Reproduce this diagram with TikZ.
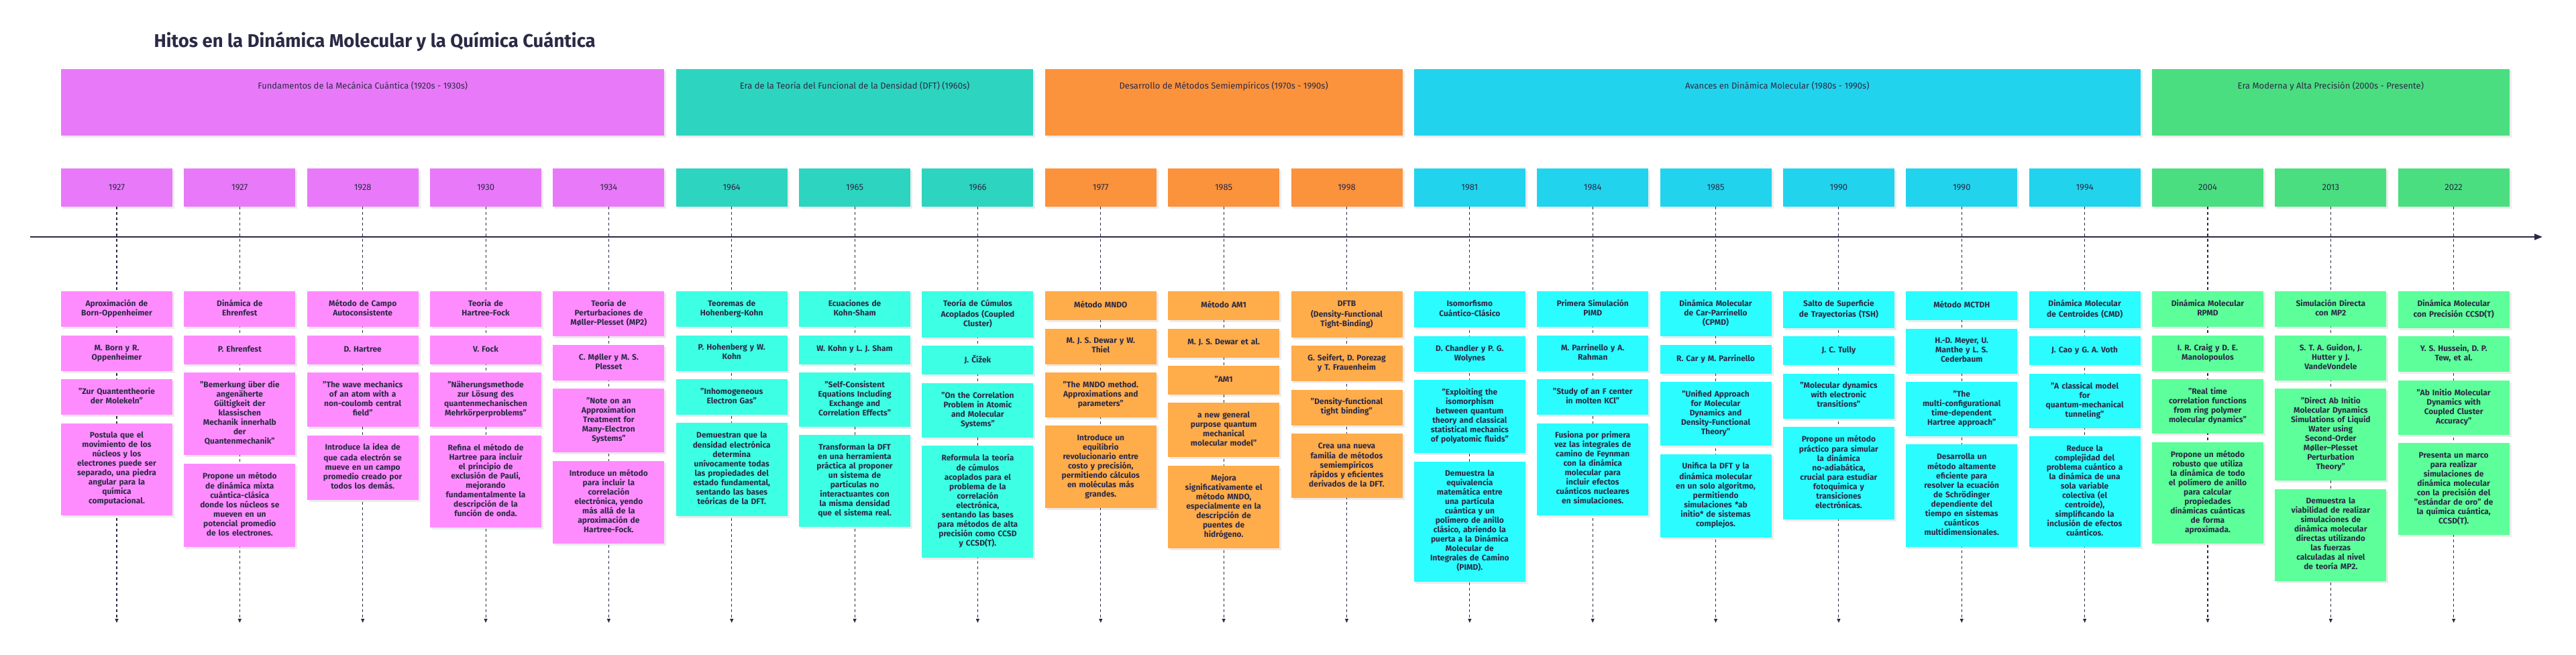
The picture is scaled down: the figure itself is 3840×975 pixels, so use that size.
\documentclass[tikz,border=0pt]{standalone}
\usepackage{fontspec}
\setmainfont{Fira Sans}
\usetikzlibrary{positioning,arrows.meta,shadows}

\definecolor{ink}{HTML}{2B2A45}
\definecolor{secA}{HTML}{E879F9}
\definecolor{cardA}{HTML}{FF8CFF}
\definecolor{secB}{HTML}{2DD4BF}
\definecolor{cardB}{HTML}{3CFFE3}
\definecolor{secC}{HTML}{FB923C}
\definecolor{cardC}{HTML}{FFAC4B}
\definecolor{secD}{HTML}{22D3EE}
\definecolor{cardD}{HTML}{2AFCFF}
\definecolor{secE}{HTML}{4ADE80}
\definecolor{cardE}{HTML}{5CFF9A}

\tikzset{
  boxshadow/.style={drop shadow={shadow xshift=3pt,shadow yshift=-3pt,fill=black,opacity=0.08}},
  secbox/.style={rectangle,boxshadow,minimum height=99pt,inner sep=0pt},
  sectitle/.style={text=ink,font=\fontsize{13}{15}\selectfont},
  yearbox/.style={rectangle,boxshadow,minimum width=166pt,minimum height=57pt,
    inner sep=0pt,text=ink,font=\fontsize{13}{15}\selectfont},
  card/.style={rectangle,boxshadow,minimum width=166pt,minimum height=43pt,
    text width=152pt,align=center,inner xsep=7pt,inner ysep=12.5pt,text=ink,
    font=\fontsize{12}{14}\selectfont\bfseries,
    execute at begin node=\strut,execute at end node=\strut},
  vline/.style={draw=ink,line width=1.1pt,dash pattern=on 4pt off 4pt,
    -{Triangle[length=6pt,width=5pt]}},
  axis/.style={draw=ink,line width=2.2pt,-{Triangle[length=12pt,width=9pt]}}
}

\begin{document}
\begin{tikzpicture}[x=1pt,y=-1pt]
  \useasboundingbox (0,0) rectangle (3840,975);
  \fill[white] (0,0) rectangle (3840,975);

  % title
  \node[text=ink,font=\fontsize{27.5}{32}\selectfont\bfseries,anchor=west] (title) at (226,62)
    {Hitos en la Dinámica Molecular y la Química Cuántica};

  % sections
  \node[secbox,fill=secA,minimum width=899.4pt] (sA) at (540.7,152.5) {};
  \node[secbox,fill=secB,minimum width=532.7pt] (sB) at (1274.1,152.5) {};
  \node[secbox,fill=secC,minimum width=532.7pt] (sC) at (1824.15,152.5) {};
  \node[secbox,fill=secD,minimum width=1082.75pt] (sD) at (2649.225,152.5) {};
  \node[secbox,fill=secE,minimum width=532.7pt] (sE) at (3474.3,152.5) {};
  \node[sectitle] (tA) at (540.7,128) {Fundamentos de la Mecánica Cuántica (1920s - 1930s)};
  \node[sectitle] (tB) at (1274.1,128) {Era de la Teoría del Funcional de la Densidad (DFT) (1960s)};
  \node[sectitle] (tC) at (1824.15,128) {Desarrollo de Métodos Semiempíricos (1970s - 1990s)};
  \node[sectitle] (tD) at (2649.225,128) {Avances en Dinámica Molecular (1980s - 1990s)};
  \node[sectitle] (tE) at (3474.3,128) {Era Moderna y Alta Precisión (2000s - Presente)};

  % years
  \node[yearbox,fill=secA] (y1) at (174,279.5) {1927};
  \node[yearbox,fill=secA] (y2) at (357.35,279.5) {1927};
  \node[yearbox,fill=secA] (y3) at (540.7,279.5) {1928};
  \node[yearbox,fill=secA] (y4) at (724.05,279.5) {1930};
  \node[yearbox,fill=secA] (y5) at (907.4,279.5) {1934};
  \node[yearbox,fill=secB] (y6) at (1090.75,279.5) {1964};
  \node[yearbox,fill=secB] (y7) at (1274.1,279.5) {1965};
  \node[yearbox,fill=secB] (y8) at (1457.45,279.5) {1966};
  \node[yearbox,fill=secC] (y9) at (1640.8,279.5) {1977};
  \node[yearbox,fill=secC] (y10) at (1824.15,279.5) {1985};
  \node[yearbox,fill=secC] (y11) at (2007.5,279.5) {1998};
  \node[yearbox,fill=secD] (y12) at (2190.85,279.5) {1981};
  \node[yearbox,fill=secD] (y13) at (2374.2,279.5) {1984};
  \node[yearbox,fill=secD] (y14) at (2557.55,279.5) {1985};
  \node[yearbox,fill=secD] (y15) at (2740.9,279.5) {1990};
  \node[yearbox,fill=secD] (y16) at (2924.25,279.5) {1990};
  \node[yearbox,fill=secD] (y17) at (3107.6,279.5) {1994};
  \node[yearbox,fill=secE] (y18) at (3290.95,279.5) {2004};
  \node[yearbox,fill=secE] (y19) at (3474.3,279.5) {2013};
  \node[yearbox,fill=secE] (y20) at (3657.65,279.5) {2022};

  % dashed lines down from each year
  \foreach \i/\cx in {1/174,2/357.35,3/540.7,4/724.05,5/907.4,6/1090.75,7/1274.1,
      8/1457.45,9/1640.8,10/1824.15,11/2007.5,12/2190.85,13/2374.2,14/2557.55,
      15/2740.9,16/2924.25,17/3107.6,18/3290.95,19/3474.3,20/3657.65}{
    \coordinate (d\i) at (\cx,928);
    \draw[vline] (y\i) -- (d\i);
  }

  % time axis
  \coordinate (axL) at (45,353);
  \coordinate (axR) at (3790,353);
  \draw[axis] (axL) -- (axR);

  % 1927
  \node[card,fill=cardA,anchor=north] (c1a) at (174,434) {Aproximación de\\Born-Oppenheimer};
  \node[card,fill=cardA,below=12pt of c1a] (c1b) {M. Born y R.\\Oppenheimer};
  \node[card,fill=cardA,below=12pt of c1b] (c1c) {"Zur Quantentheorie\\der Molekeln"};
  \node[card,fill=cardA,below=12pt of c1c] (c1d) {Postula que el\\movimiento de los\\núcleos y los\\electrones puede ser\\separado, una piedra\\angular para la\\química\\computacional.};
  % 1927
  \node[card,fill=cardA,anchor=north] (c2a) at (357.35,434) {Dinámica de\\Ehrenfest};
  \node[card,fill=cardA,below=12pt of c2a] (c2b) {P. Ehrenfest};
  \node[card,fill=cardA,below=12pt of c2b] (c2c) {"Bemerkung über die\\angenäherte\\Gültigkeit der\\klassischen\\Mechanik innerhalb\\der\\Quantenmechanik"};
  \node[card,fill=cardA,below=12pt of c2c] (c2d) {Propone un método\\de dinámica mixta\\cuántica-clásica\\donde los núcleos se\\mueven en un\\potencial promedio\\de los electrones.};
  % 1928
  \node[card,fill=cardA,anchor=north] (c3a) at (540.7,434) {Método de Campo\\Autoconsistente};
  \node[card,fill=cardA,below=12pt of c3a] (c3b) {D. Hartree};
  \node[card,fill=cardA,below=12pt of c3b] (c3c) {"The wave mechanics\\of an atom with a\\non-coulomb central\\field"};
  \node[card,fill=cardA,below=12pt of c3c] (c3d) {Introduce la idea de\\que cada electrón se\\mueve en un campo\\promedio creado por\\todos los demás.};
  % 1930
  \node[card,fill=cardA,anchor=north] (c4a) at (724.05,434) {Teoría de\\Hartree-Fock};
  \node[card,fill=cardA,below=12pt of c4a] (c4b) {V. Fock};
  \node[card,fill=cardA,below=12pt of c4b] (c4c) {"Näherungsmethode\\zur Lösung des\\quantenmechanischen\\Mehrkörperproblems"};
  \node[card,fill=cardA,below=12pt of c4c] (c4d) {Refina el método de\\Hartree para incluir\\el principio de\\exclusión de Pauli,\\mejorando\\fundamentalmente la\\descripción de la\\función de onda.};
  % 1934
  \node[card,fill=cardA,anchor=north] (c5a) at (907.4,434) {Teoría de\\Perturbaciones de\\Møller-Plesset (MP2)};
  \node[card,fill=cardA,below=12pt of c5a] (c5b) {C. Møller y M. S.\\Plesset};
  \node[card,fill=cardA,below=12pt of c5b] (c5c) {"Note on an\\Approximation\\Treatment for\\Many-Electron\\Systems"};
  \node[card,fill=cardA,below=12pt of c5c] (c5d) {Introduce un método\\para incluir la\\correlación\\electrónica, yendo\\más allá de la\\aproximación de\\Hartree-Fock.};

  % 1964
  \node[card,fill=cardB,anchor=north] (c6a) at (1090.75,434) {Teoremas de\\Hohenberg-Kohn};
  \node[card,fill=cardB,below=12pt of c6a] (c6b) {P. Hohenberg y W.\\Kohn};
  \node[card,fill=cardB,below=12pt of c6b] (c6c) {"Inhomogeneous\\Electron Gas"};
  \node[card,fill=cardB,below=12pt of c6c] (c6d) {Demuestran que la\\densidad electrónica\\determina\\unívocamente todas\\las propiedades del\\estado fundamental,\\sentando las bases\\teóricas de la DFT.};
  % 1965
  \node[card,fill=cardB,anchor=north] (c7a) at (1274.1,434) {Ecuaciones de\\Kohn-Sham};
  \node[card,fill=cardB,below=12pt of c7a] (c7b) {W. Kohn y L. J. Sham};
  \node[card,fill=cardB,below=12pt of c7b] (c7c) {"Self-Consistent\\Equations Including\\Exchange and\\Correlation Effects"};
  \node[card,fill=cardB,below=12pt of c7c] (c7d) {Transforman la DFT\\en una herramienta\\práctica al proponer\\un sistema de\\partículas no\\interactuantes con\\la misma densidad\\que el sistema real.};
  % 1966
  \node[card,fill=cardB,anchor=north] (c8a) at (1457.45,434) {Teoría de Cúmulos\\Acoplados (Coupled\\Cluster)};
  \node[card,fill=cardB,below=12pt of c8a] (c8b) {J. Čížek};
  \node[card,fill=cardB,below=12pt of c8b] (c8c) {"On the Correlation\\Problem in Atomic\\and Molecular\\Systems"};
  \node[card,fill=cardB,below=12pt of c8c] (c8d) {Reformula la teoría\\de cúmulos\\acoplados para el\\problema de la\\correlación\\electrónica,\\sentando las bases\\para métodos de alta\\precisión como CCSD\\y CCSD(T).};

  % 1977
  \node[card,fill=cardC,anchor=north] (c9a) at (1640.8,434) {Método MNDO};
  \node[card,fill=cardC,below=12pt of c9a] (c9b) {M. J. S. Dewar y W.\\Thiel};
  \node[card,fill=cardC,below=12pt of c9b] (c9c) {"The MNDO method.\\Approximations and\\parameters"};
  \node[card,fill=cardC,below=12pt of c9c] (c9d) {Introduce un\\equilibrio\\revolucionario entre\\costo y precisión,\\permitiendo cálculos\\en moléculas más\\grandes.};
  % 1985
  \node[card,fill=cardC,anchor=north] (c10a) at (1824.15,434) {Método AM1};
  \node[card,fill=cardC,below=12pt of c10a] (c10b) {M. J. S. Dewar et al.};
  \node[card,fill=cardC,below=12pt of c10b] (c10c) {"AM1};
  \node[card,fill=cardC,below=12pt of c10c] (c10d) {a new general\\purpose quantum\\mechanical\\molecular model"};
  \node[card,fill=cardC,below=12pt of c10d] (c10e) {Mejora\\significativamente el\\método MNDO,\\especialmente en la\\descripción de\\puentes de\\hidrógeno.};
  % 1998
  \node[card,fill=cardC,anchor=north] (c11a) at (2007.5,434) {DFTB\\(Density-Functional\\Tight-Binding)};
  \node[card,fill=cardC,below=12pt of c11a] (c11b) {G. Seifert, D. Porezag\\y T. Frauenheim};
  \node[card,fill=cardC,below=12pt of c11b] (c11c) {"Density-functional\\tight binding"};
  \node[card,fill=cardC,below=12pt of c11c] (c11d) {Crea una nueva\\familia de métodos\\semiempíricos\\rápidos y eficientes\\derivados de la DFT.};

  % 1981
  \node[card,fill=cardD,anchor=north] (c12a) at (2190.85,434) {Isomorfismo\\Cuántico-Clásico};
  \node[card,fill=cardD,below=12pt of c12a] (c12b) {D. Chandler y P. G.\\Wolynes};
  \node[card,fill=cardD,below=12pt of c12b] (c12c) {"Exploiting the\\isomorphism\\between quantum\\theory and classical\\statistical mechanics\\of polyatomic fluids"};
  \node[card,fill=cardD,below=12pt of c12c] (c12d) {Demuestra la\\equivalencia\\matemática entre\\una partícula\\cuántica y un\\polímero de anillo\\clásico, abriendo la\\puerta a la Dinámica\\Molecular de\\Integrales de Camino\\(PIMD).};
  % 1984
  \node[card,fill=cardD,anchor=north] (c13a) at (2374.2,434) {Primera Simulación\\PIMD};
  \node[card,fill=cardD,below=12pt of c13a] (c13b) {M. Parrinello y A.\\Rahman};
  \node[card,fill=cardD,below=12pt of c13b] (c13c) {"Study of an F center\\in molten KCl"};
  \node[card,fill=cardD,below=12pt of c13c] (c13d) {Fusiona por primera\\vez las integrales de\\camino de Feynman\\con la dinámica\\molecular para\\incluir efectos\\cuánticos nucleares\\en simulaciones.};
  % 1985
  \node[card,fill=cardD,anchor=north] (c14a) at (2557.55,434) {Dinámica Molecular\\de Car-Parrinello\\(CPMD)};
  \node[card,fill=cardD,below=12pt of c14a] (c14b) {R. Car y M. Parrinello};
  \node[card,fill=cardD,below=12pt of c14b] (c14c) {"Unified Approach\\for Molecular\\Dynamics and\\Density-Functional\\Theory"};
  \node[card,fill=cardD,below=12pt of c14c] (c14d) {Unifica la DFT y la\\dinámica molecular\\en un solo algoritmo,\\permitiendo\\simulaciones *ab\\initio* de sistemas\\complejos.};
  % 1990
  \node[card,fill=cardD,anchor=north] (c15a) at (2740.9,434) {Salto de Superficie\\de Trayectorias (TSH)};
  \node[card,fill=cardD,below=12pt of c15a] (c15b) {J. C. Tully};
  \node[card,fill=cardD,below=12pt of c15b] (c15c) {"Molecular dynamics\\with electronic\\transitions"};
  \node[card,fill=cardD,below=12pt of c15c] (c15d) {Propone un método\\práctico para simular\\la dinámica\\no-adiabática,\\crucial para estudiar\\fotoquímica y\\transiciones\\electrónicas.};
  % 1990
  \node[card,fill=cardD,anchor=north] (c16a) at (2924.25,434) {Método MCTDH};
  \node[card,fill=cardD,below=12pt of c16a] (c16b) {H.-D. Meyer, U.\\Manthe y L. S.\\Cederbaum};
  \node[card,fill=cardD,below=12pt of c16b] (c16c) {"The\\multi-configurational\\time-dependent\\Hartree approach"};
  \node[card,fill=cardD,below=12pt of c16c] (c16d) {Desarrolla un\\método altamente\\eficiente para\\resolver la ecuación\\de Schrödinger\\dependiente del\\tiempo en sistemas\\cuánticos\\multidimensionales.};
  % 1994
  \node[card,fill=cardD,anchor=north] (c17a) at (3107.6,434) {Dinámica Molecular\\de Centroides (CMD)};
  \node[card,fill=cardD,below=12pt of c17a] (c17b) {J. Cao y G. A. Voth};
  \node[card,fill=cardD,below=12pt of c17b] (c17c) {"A classical model\\for\\quantum-mechanical\\tunneling"};
  \node[card,fill=cardD,below=12pt of c17c] (c17d) {Reduce la\\complejidad del\\problema cuántico a\\la dinámica de una\\sola variable\\colectiva (el\\centroide),\\simplificando la\\inclusión de efectos\\cuánticos.};

  % 2004
  \node[card,fill=cardE,anchor=north] (c18a) at (3290.95,434) {Dinámica Molecular\\RPMD};
  \node[card,fill=cardE,below=12pt of c18a] (c18b) {I. R. Craig y D. E.\\Manolopoulos};
  \node[card,fill=cardE,below=12pt of c18b] (c18c) {"Real time\\correlation functions\\from ring polymer\\molecular dynamics"};
  \node[card,fill=cardE,below=12pt of c18c] (c18d) {Propone un método\\robusto que utiliza\\la dinámica de todo\\el polímero de anillo\\para calcular\\propiedades\\dinámicas cuánticas\\de forma\\aproximada.};
  % 2013
  \node[card,fill=cardE,anchor=north] (c19a) at (3474.3,434) {Simulación Directa\\con MP2};
  \node[card,fill=cardE,below=12pt of c19a] (c19b) {S. T. A. Guidon, J.\\Hutter y J.\\VandeVondele};
  \node[card,fill=cardE,below=12pt of c19b] (c19c) {"Direct Ab Initio\\Molecular Dynamics\\Simulations of Liquid\\Water using\\Second-Order\\Møller–Plesset\\Perturbation\\Theory"};
  \node[card,fill=cardE,below=12pt of c19c] (c19d) {Demuestra la\\viabilidad de realizar\\simulaciones de\\dinámica molecular\\directas utilizando\\las fuerzas\\calculadas al nivel\\de teoría MP2.};
  % 2022
  \node[card,fill=cardE,anchor=north] (c20a) at (3657.65,434) {Dinámica Molecular\\con Precisión CCSD(T)};
  \node[card,fill=cardE,below=12pt of c20a] (c20b) {Y. S. Hussein, D. P.\\Tew, et al.};
  \node[card,fill=cardE,below=12pt of c20b] (c20c) {"Ab Initio Molecular\\Dynamics with\\Coupled Cluster\\Accuracy"};
  \node[card,fill=cardE,below=12pt of c20c] (c20d) {Presenta un marco\\para realizar\\simulaciones de\\dinámica molecular\\con la precisión del\\"estándar de oro" de\\la química cuántica,\\CCSD(T).};
\end{tikzpicture}
\end{document}
